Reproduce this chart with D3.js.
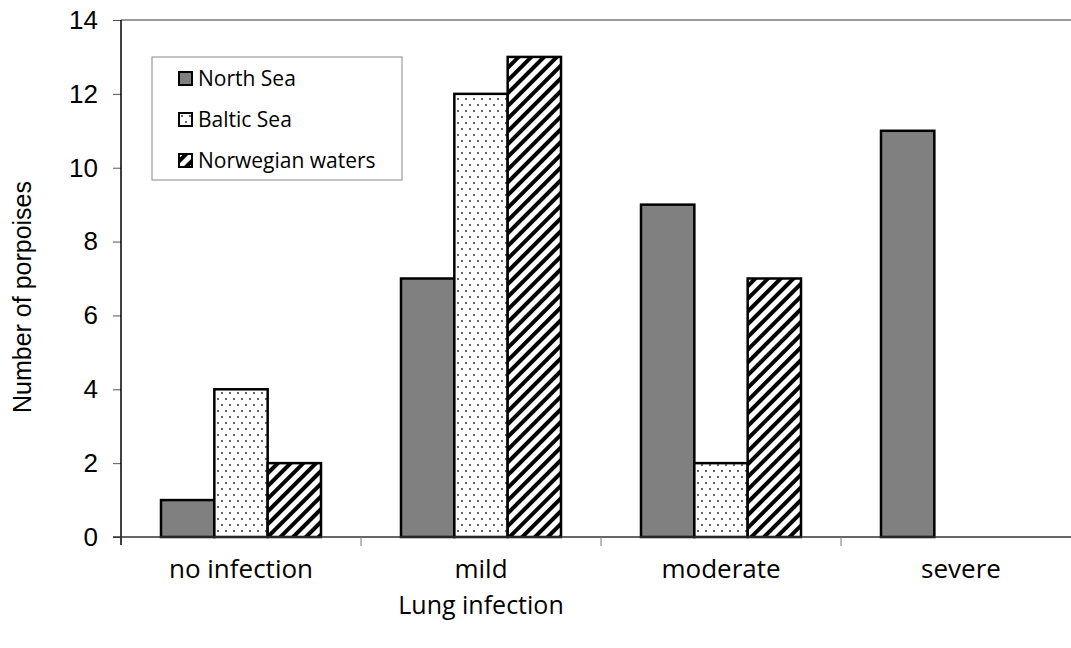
<!DOCTYPE html>
<html>
<head>
<meta charset="utf-8">
<script src="https://cdn.jsdelivr.net/npm/d3@7"></script>
<style>
  body { margin: 0; background: #fff; }
  svg { display: block; }
</style>
</head>
<body>
<svg class="chart"></svg>
<script>
let width = 1071,
  height = 648;

// data
let categories = ["no infection", "mild", "moderate", "severe"];
let seriesNames = ["North Sea", "Baltic Sea", "Norwegian waters"];
let northSea = [1, 7, 9, 11];
let balticSea = [4, 12, 2, 0];
let norwegian = [2, 13, 7, 0];
let yTicks = [0, 2, 4, 6, 8, 10, 12, 14];

let seriesValues = [northSea, balticSea, norwegian];
let fills = ["#808080", "url(#dots)", "url(#hatch)"];

let margin = { top: 20, left: 121, bottom: 111 };
let plotRight = 1081; // last band runs off the edge of the picture

let svg = d3.select(".chart").attr("width", width).attr("height", height);

// patterns
let defs = svg.append("defs");
let dots = defs.append("pattern")
  .attr("id", "dots")
  .attr("patternUnits", "userSpaceOnUse")
  .attr("width", 8).attr("height", 12);
dots.append("rect").attr("width", 8).attr("height", 12).attr("fill", "#fff");
dots.append("circle").attr("cx", 2).attr("cy", 3).attr("r", 1).attr("fill", "#333");
dots.append("circle").attr("cx", 6).attr("cy", 9).attr("r", 1).attr("fill", "#333");

let hatch = defs.append("pattern")
  .attr("id", "hatch")
  .attr("patternUnits", "userSpaceOnUse")
  .attr("width", 9).attr("height", 9)
  .attr("patternTransform", "rotate(45)");
hatch.append("rect").attr("width", 9).attr("height", 9).attr("fill", "#fff");
hatch.append("rect").attr("x", 0).attr("y", 0).attr("width", 4).attr("height", 9).attr("fill", "#000");

let x = d3.scaleBand()
  .domain(categories)
  .range([margin.left, plotRight])
  .paddingInner(1 / 3)
  .paddingOuter(1 / 6);

let xs = d3.scaleBand()
  .domain(seriesNames)
  .range([0, x.bandwidth()]);

let y = d3.scaleLinear()
  .domain([0, 14])
  .range([height - margin.bottom, margin.top]);

// top border
svg.append("line")
  .attr("x1", margin.left).attr("x2", width)
  .attr("y1", y(14)).attr("y2", y(14))
  .attr("stroke", "#9a9a9a").attr("stroke-width", 2);

// bars
categories.forEach(function (cat, i) {
  seriesNames.forEach(function (s, j) {
    let v = seriesValues[j][i];
    if (!v) return;
    svg.append("rect")
      .attr("class", "bar")
      .attr("x", x(cat) + xs(s))
      .attr("y", y(v))
      .attr("width", xs.bandwidth())
      .attr("height", y(0) - y(v))
      .attr("fill", fills[j])
      .attr("stroke", "#000")
      .attr("stroke-width", 2.5);
  });
});

// y axis
let yAxis = svg.append("g")
  .attr("transform", "translate(" + margin.left + ",0)")
  .call(d3.axisLeft(y).tickValues(yTicks).tickSize(8).tickPadding(15).tickSizeOuter(0));
yAxis.select(".domain").remove();
yAxis.selectAll(".tick line").attr("stroke", "#555");
yAxis.selectAll("text")
  .attr("font-family", "Liberation Sans, Arial, sans-serif")
  .attr("font-size", 26)
  .attr("fill", "#000");
svg.append("line")
  .attr("x1", margin.left).attr("x2", margin.left)
  .attr("y1", y(14)).attr("y2", y(0) + 8)
  .attr("stroke", "#000").attr("stroke-width", 1.5);

// x axis
svg.append("line")
  .attr("x1", margin.left - 8).attr("x2", width)
  .attr("y1", y(0)).attr("y2", y(0))
  .attr("stroke", "#333").attr("stroke-width", 1.5);
let step = x.step();
categories.slice(1).forEach(function (cat) {
  let bx = x(cat) - step * x.paddingInner() / 2;
  svg.append("line")
    .attr("x1", bx).attr("x2", bx)
    .attr("y1", y(0)).attr("y2", y(0) + 9)
    .attr("stroke", "#777");
});

let xAxis = svg.append("g")
  .attr("transform", "translate(0," + y(0) + ")")
  .call(d3.axisBottom(x).tickSize(0).tickPadding(23));
xAxis.select(".domain").remove();
xAxis.selectAll("text")
  .attr("font-family", "Open Sans, sans-serif")
  .attr("font-size", 26)
  .attr("fill", "#000");

// axis titles
svg.append("text")
  .attr("x", x("mild") + x.bandwidth() / 2)
  .attr("y", 614)
  .attr("text-anchor", "middle")
  .attr("font-family", "Open Sans, sans-serif")
  .attr("font-size", 25)
  .text("Lung infection");

svg.append("text")
  .attr("transform", "translate(31," + 297 + ") rotate(-90)")
  .attr("text-anchor", "middle")
  .attr("font-family", "Liberation Sans, Arial, sans-serif")
  .attr("font-size", 25)
  .text("Number of porpoises");

// legend
let legend = svg.append("g").attr("transform", "translate(152,57)");
legend.append("rect")
  .attr("width", 250).attr("height", 123)
  .attr("fill", "#fff").attr("stroke", "#888").attr("stroke-width", 1);
seriesNames.forEach(function (s, j) {
  let row = legend.append("g").attr("transform", "translate(0," + (21 + j * 41) + ")");
  row.append("rect")
    .attr("x", 27).attr("y", -6)
    .attr("width", 13).attr("height", 13)
    .attr("fill", fills[j])
    .attr("stroke", "#000").attr("stroke-width", 2);
  row.append("text")
    .attr("x", 46).attr("y", 1)
    .attr("dy", "0.35em")
    .attr("font-family", "Open Sans, sans-serif")
    .attr("font-size", 21)
    .text(s);
});
</script>
</body>
</html>
